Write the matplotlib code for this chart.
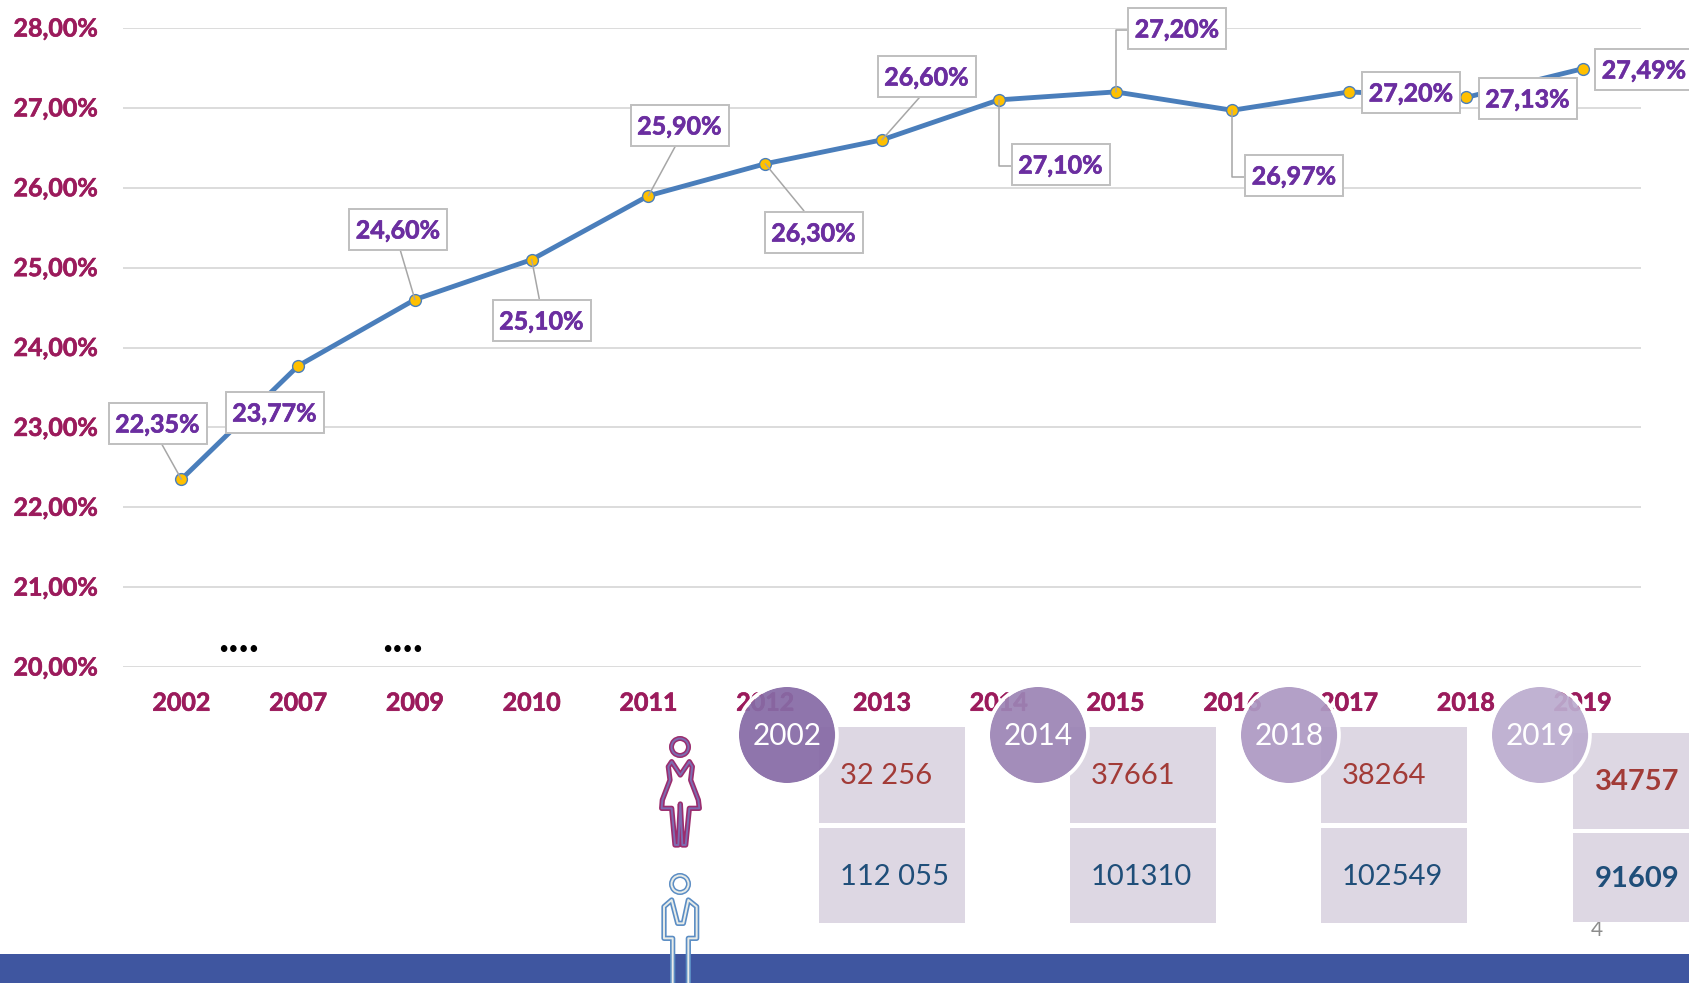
import matplotlib
matplotlib.use("Agg")
import matplotlib.pyplot as plt
import matplotlib.patheffects as pe
from matplotlib.patches import Circle, Rectangle, PathPatch
from matplotlib.path import Path
from matplotlib.transforms import ScaledTranslation

plt.rcParams['font.family'] = ['Lato', 'DejaVu Sans']

# ---- data ----
categories = ['2002', '2007', '2009', '2010', '2011', '2012', '2013',
              '2014', '2015', '2016', '2017', '2018', '2019']
rates = [22.35, 23.77, 24.60, 25.10, 25.90, 26.30, 26.60,
         27.10, 27.20, 26.97, 27.20, 27.13, 27.49]
y_ticks = [20, 21, 22, 23, 24, 25, 26, 27, 28]
panel_years = ['2002', '2014', '2018', '2019']
women = ['32 256', '37661', '38264', '34757']
men = ['112 055', '101310', '102549', '91609']

# ---- layout ----
W, H = 1690, 983
AX_L, AX_R, AX_T, AX_B = 123, 1641, 28, 667
# label box centres in figure pixels, and the leader style of each
label_centres = [(157.5, 423), (274.5, 412), (398, 229), (541.5, 320), (679.5, 125), (813.5, 232), (926.5, 76),
                 (1060.5, 164), (1177, 28), (1294, 175), (1411, 92), (1527.5, 98), (1644, 69)]
leaders = ['down', None, 'down', 'up', 'down', 'up', 'down', 'elbow', 'elbow', 'elbow', None, None, None]
TEXT_DROP = 2

PURPLE = '#6B2EA0'
CRIMSON = '#9B1B5C'
GRID = '#D9D9D9'
BOX_EDGE = '#BFBFBF'
LINE = '#4A7EBB'


def fixed_box(x0, y0, width, height, mutation_size):
    """Label frame of constant size, centred a little above the text."""
    bw, bh = 98, 41
    cx, cy = x0 + width / 2, y0 + height / 2 + TEXT_DROP
    l, r, b, t = cx - bw / 2, cx + bw / 2, cy - bh / 2, cy + bh / 2
    return Path([(l, b), (r, b), (r, t), (l, t), (l, b)], closed=True)


def heavier(color, w=0.45):
    return [pe.withStroke(linewidth=w, foreground=color)]


fig = plt.figure(figsize=(W / 100, H / 100), dpi=100, facecolor='white')
ax = fig.add_axes([AX_L / W, 1 - AX_B / H, (AX_R - AX_L) / W, (AX_B - AX_T) / H])
ax.set_xlim(-0.5, len(categories) - 0.5)
ax.set_ylim(20, 28)
for s in ax.spines.values():
    s.set_visible(False)
ax.set_xticks(range(len(categories)), categories)
ax.set_yticks(y_ticks, [f'{v},00%' for v in y_ticks])
ax.tick_params(axis='x', length=0, pad=17.8, labelcolor=CRIMSON, labelsize=18)
ax.tick_params(axis='y', length=0, pad=18, labelcolor=CRIMSON, labelsize=18)
up = ScaledTranslation(0, 1.0 / 100, fig.dpi_scale_trans)
for t in ax.get_xticklabels() + ax.get_yticklabels():
    t.set_fontweight('bold')
    t.set_path_effects(heavier(CRIMSON))
for t in ax.get_yticklabels():
    t.set_transform(t.get_transform() + up)
ax.grid(axis='y', color=GRID, lw=1.3)
ax.set_axisbelow(True)
ax.plot(range(len(rates)), rates, color=LINE, lw=3.5, marker='o', ms=8.5,
        mfc='#FFC000', mec=LINE, mew=1.0, zorder=3, clip_on=False)

fig.canvas.draw()
for i, v in enumerate(rates):
    px, py = ax.transData.transform((i, v))
    cx, cy = label_centres[i]
    dx, dy = cx - px, (H - cy) - py - TEXT_DROP
    kw = {}
    style = leaders[i]
    if style == 'down':
        kw = dict(arrowprops=dict(arrowstyle='-', color='#A6A6A6', lw=1.1, shrinkA=0, shrinkB=0, relpos=(0.5, 0)))
    elif style == 'up':
        kw = dict(arrowprops=dict(arrowstyle='-', color='#A6A6A6', lw=1.1, shrinkA=0, shrinkB=0, relpos=(0.5, 1)))
    elif style == 'elbow':
        kw = dict(arrowprops=dict(arrowstyle='-', color='#A6A6A6', lw=1.1, shrinkA=0, shrinkB=0, relpos=(0, 0.5),
                                  connectionstyle='angle,angleA=0,angleB=90,rad=0'))
    a = ax.annotate(f'{v:.2f}%'.replace('.', ','), xy=(i, v), xytext=(dx, dy), textcoords='offset pixels',
                    ha='center', va='center', fontsize=18, fontweight='bold', color=PURPLE, zorder=5,
                    annotation_clip=False,
                    bbox=dict(boxstyle=fixed_box, fc='white', ec=BOX_EDGE, lw=1.4), **kw)
    a.set_path_effects(heavier(PURPLE))

# ---- overlay in figure pixels ----
ov = fig.add_axes([0, 0, 1, 1], facecolor='none')
ov.set_xlim(0, W)
ov.set_ylim(H, 0)
ov.axis('off')

ov.add_patch(Rectangle((0, 954), W, H - 954, fc='#3F56A0', ec='none', zorder=1))
for x in (239, 403):
    ov.text(x, 652, '....', ha='center', va='baseline', fontsize=31, fontweight='bold', color='black', zorder=2)
ov.text(1597, 930, '4', ha='center', va='center', fontsize=15, color='#8C8C8C', zorder=2)

circle_x = [787, 1038, 1289, 1540]
circle_c = ['#876BA6', '#9C84B5', '#AD99C3', '#BCACCF']
box_x = [819, 1070, 1321, 1573]
box_rows = [[(727, 96), (828, 95)]] * 3 + [[(733, 96), (833, 89)]]
for k in range(4):
    (y1, h1), (y2, h2) = box_rows[k]
    ov.add_patch(Rectangle((box_x[k], y1), 146, h1, fc='#DDD7E3', ec='none', zorder=3))
    ov.add_patch(Rectangle((box_x[k], y2), 146, h2, fc='#DDD7E3', ec='none', zorder=3))
    last = k == 3
    weight = 'bold' if last else 'normal'
    tx = box_x[k] + (22 if last else 21)
    ov.text(tx, y1 + 49, women[k], ha='left', va='center', fontsize=21, fontweight=weight,
            color='#A23B37', zorder=4)
    ov.text(tx, y2 + (46 if last else 49), men[k], ha='left', va='center', fontsize=21, fontweight=weight,
            color='#1F4E79', zorder=4)
    ov.add_patch(Circle((circle_x[k], 735), 48, fc=circle_c[k], ec='none', zorder=6, alpha=0.93))
    ov.add_patch(Circle((circle_x[k], 735), 50, fc='none', ec='white', lw=2.6, zorder=6))
    ov.text(circle_x[k], 736, panel_years[k], ha='center', va='center', fontsize=21.5, color='white', zorder=7)

# ---- pictograms ----
def zoomed(points):
    return [(600 + a / 3, 660 + b / 3) for a, b in points]

def outline(points, closed, outer, inner):
    verts = zoomed(points)
    codes = [Path.MOVETO] + [Path.LINETO] * (len(verts) - 1)
    if closed:
        verts = verts + [verts[0]]
        codes = codes + [Path.CLOSEPOLY]
    for col, lw, z in ((outer, 3.8, 8), (inner, 1.4, 9)):
        ov.add_patch(PathPatch(Path(verts, codes), fc='none', ec=col, lw=lw, joinstyle='round', capstyle='round',
                               zorder=z))

woman = [(241, 345), (215, 305), (205, 320), (210, 360), (187, 420), (185, 445), (215, 445), (225, 555),
         (235, 555), (241, 432), (247, 555), (257, 555), (268, 445), (298, 445), (295, 420), (272, 360),
         (277, 320), (268, 305)]
man = [(218, 969), (218, 835), (192, 835), (192, 740), (215, 720), (233, 790), (250, 790), (265, 720),
       (290, 740), (290, 835), (265, 835), (265, 969)]
outline(woman, True, '#9B2D6E', '#7E6BB0')
outline(man, False, '#5B8DC4', '#E8ECE8')
for cy, outer, inner in ((747, '#9B2D6E', '#7E6BB0'), (884, '#5B8DC4', '#E8ECE8')):
    ov.add_patch(Circle((680, cy), 8.5, fc='white', ec=outer, lw=3.6, zorder=8))
    ov.add_patch(Circle((680, cy), 8.5, fc='none', ec=inner, lw=1.4, zorder=9))

fig.savefig('out.png', dpi=100)
